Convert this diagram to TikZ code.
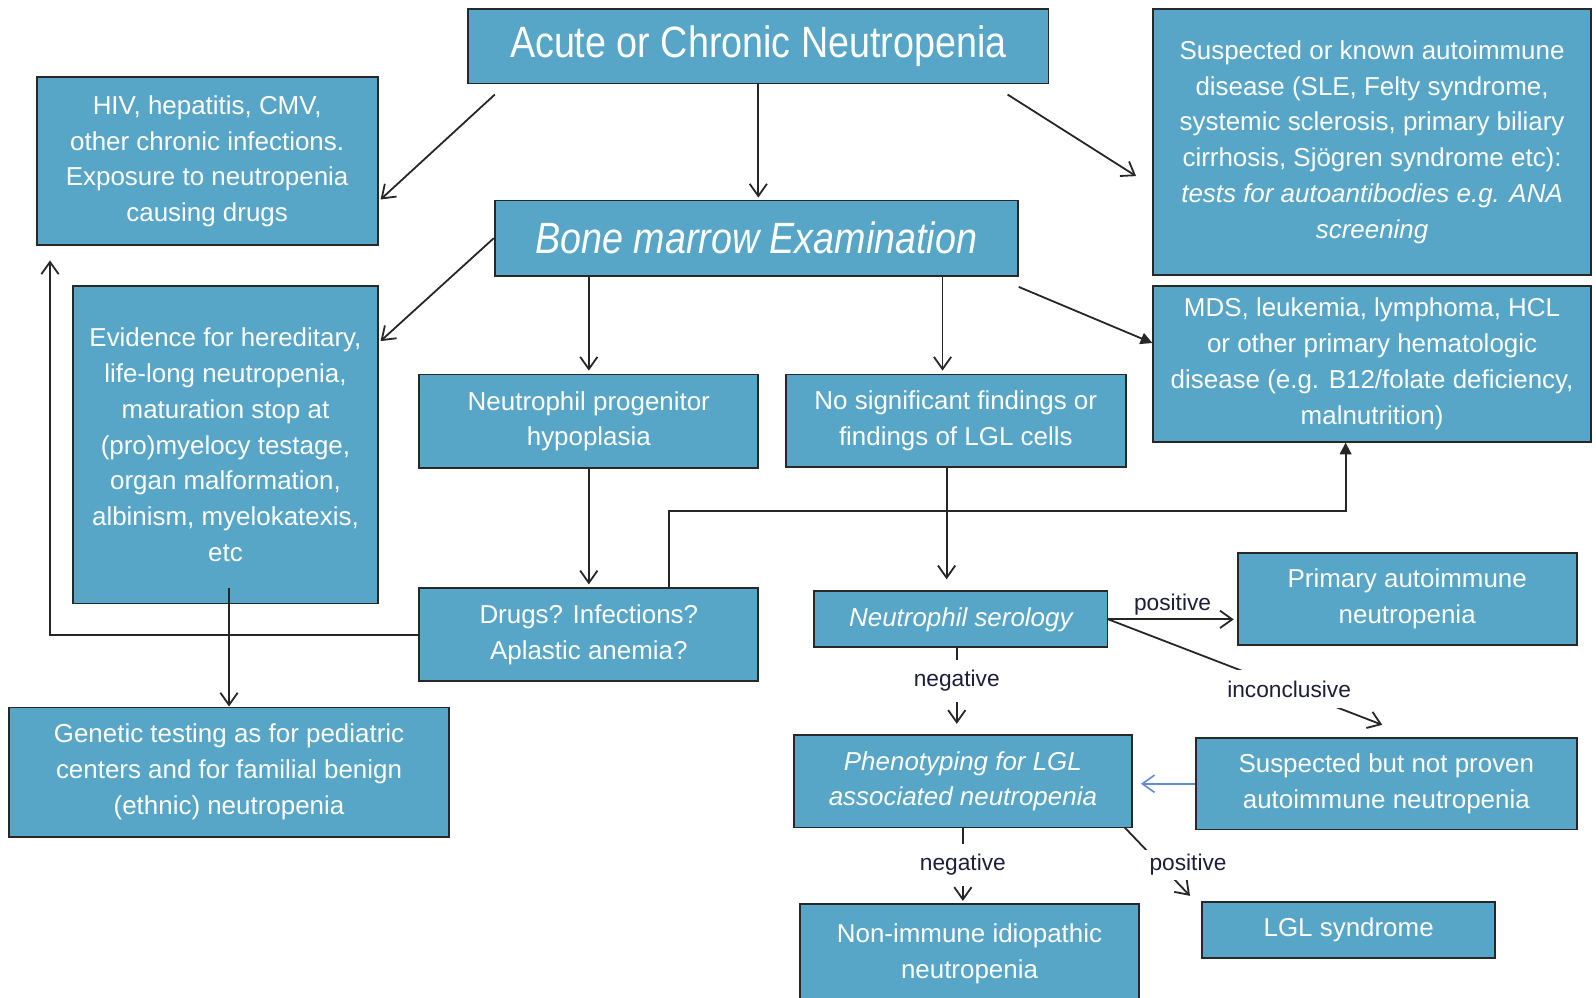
\documentclass[tikz,border=0pt]{standalone}
\usepackage{fontspec}
\setmainfont{Liberation Sans}
\newfontfamily\headfont[FakeStretch=0.86]{Liberation Sans}
\usetikzlibrary{positioning, arrows.meta, calc}
\definecolor{boxblue}{RGB}{87,166,200}
\definecolor{boxline}{RGB}{40,40,40}
\definecolor{labnavy}{RGB}{30,30,60}
\definecolor{linkblue}{RGB}{100,140,210}
\tikzset{
    nbox/.style={rectangle, draw=boxline, fill=boxblue, line width=1pt, text=white, align=center, font=\fontsize{14.5}{20}\selectfont, inner sep=2pt},
    nboxit/.style={nbox, font=\itshape\fontsize{14.5}{20}\selectfont},
    headbox/.style={nbox, font=\headfont\fontsize{24.5}{28}\selectfont},
    arr/.style={-{Straight Barb[length=2.4mm, width=3.4mm]}, line width=1pt, black!85},
    arrf/.style={-{Triangle[length=2.3mm, width=2.3mm]}, line width=1pt, black!85},
    arrblue/.style={-{Straight Barb[length=2.4mm, width=3.4mm]}, line width=0.9pt, linkblue},
    lab/.style={fill=white, text=labnavy, font=\fontsize{12.7}{14}\selectfont, inner sep=2mm},
    labtop/.style={text=labnavy, font=\fontsize{12.7}{14}\selectfont, inner sep=0.6mm}
}

\begin{document}
\begin{tikzpicture}[x=0.2mm, y=-0.2mm]
    \path[use as bounding box, fill=white] (0,0) rectangle (1568,980);

    % boxes
    \node[headbox, minimum width=114mm, minimum height=14.6mm] (title) at (745,45.5) {Acute or Chronic Neutropenia};
    \node[nbox, minimum width=67mm, minimum height=33mm] (hiv) at (203.5,158.5) {HIV, hepatitis, CMV,\\other chronic infections.\\Exposure to neutropenia\\causing drugs};
    \node[headbox, font=\headfont\itshape\fontsize{24.5}{28}\selectfont, minimum width=102.8mm, minimum height=14.8mm] (bone) at (743,234) {Bone marrow Examination};
    \node[nbox, minimum width=86mm, minimum height=52.2mm] (auto) at (1348,139.5) {Suspected or known autoimmune\\disease (SLE, Felty syndrome,\\systemic sclerosis, primary biliary\\cirrhosis, Sjögren syndrome etc):\\\textit{tests for autoantibodies e.g. ANA}\\\textit{screening}};
    \node[nbox, minimum width=86mm, minimum height=30.6mm] (mds) at (1348,357.5) {MDS, leukemia, lymphoma, HCL\\or other primary hematologic\\disease (e.g. B12/folate deficiency,\\malnutrition)};
    \node[nbox, minimum width=59.8mm, minimum height=62.4mm] (evid) at (221.5,437) {Evidence for hereditary,\\life-long neutropenia,\\maturation stop at\\(pro)myelocy testage,\\organ malformation,\\albinism, myelokatexis,\\etc};
    \node[nbox, minimum width=66.6mm, minimum height=18.4mm] (prog) at (578.5,414) {Neutrophil progenitor\\hypoplasia};
    \node[nbox, minimum width=66.8mm, minimum height=18.2mm] (nosig) at (939,413.5) {No significant findings or\\findings of LGL cells};
    \node[nbox, minimum width=66.6mm, minimum height=18.2mm] (drugs) at (578.5,623.5) {Drugs? Infections?\\Aplastic anemia?};
    \node[nboxit, minimum width=57.6mm, minimum height=11mm] (sero) at (944,608.5) {Neutrophil serology};
    \node[nbox, minimum width=66.6mm, minimum height=18.2mm] (prim) at (1382.5,588.5) {Primary autoimmune\\neutropenia};
    \node[nbox, minimum width=86.4mm, minimum height=25.4mm] (gen) at (225,758.5) {Genetic testing as for pediatric\\centers and for familial benign\\(ethnic) neutropenia};
    \node[nboxit, minimum width=66.4mm, minimum height=18.2mm] (pheno) at (946,767.5) {Phenotyping for LGL\\associated neutropenia};
    \node[nbox, minimum width=74.8mm, minimum height=18mm] (susp) at (1362,770) {Suspected but not proven\\autoimmune neutropenia};
    \node[nbox, minimum width=66.6mm, minimum height=19.6mm] (nonimm) at (952.5,937) {Non-immune idiopathic\\neutropenia};
    \node[nbox, minimum width=57.6mm, minimum height=11mm] (lgl) at (1325,913.5) {LGL syndrome};

    % connectors
    \draw[arr] ($(title.south west)+(27,10)$) -- ($(hiv.east)+(2,37.5)$);
    \draw[arr, shorten >=0.4mm] (title.south) -- (title.south |- bone.north);
    \draw[arr] ($(title.south east)+(-41,10)$) -- ($(auto.west)+(-16,33.5)$);
    \draw[arr] (bone.west) -- ($(evid.north east)+(2,55)$);
    \draw[arr, shorten >=0.6mm] (bone.south -| prog.north) -- (prog.north);
    \coordinate (nsin) at ($(nosig.north)+(-13,-3)$);
    \draw[arr] (bone.south -| nsin) -- (nsin);
    \draw[arrf] ($(bone.south east)+(0,10)$) -- ($(mds.west)+(0,-20.5)$);
    \draw[arr, shorten >=0.6mm] (prog.south) -- (drugs.north);
    \coordinate (nss) at ($(sero.north)+(-14,-11)$);
    \draw[arr] (nosig.south -| nss) -- (nss);
    \coordinate (dm) at ($(mds.south)+(-26,0)$);
    \draw[arrf] ($(drugs.north)+(78.5,0)$) -- ++(0,-75) -| (dm);
    \draw[arr] (drugs.west) -| ($(hiv.south west)+(14,14)$);
    \draw[arr] ($(evid.south -| gen.north)+(0,-16)$) -- (gen.north);
    \draw[arr, shorten >=0.6mm] (sero.east) -- node[labtop, above]{positive} (sero.east -| prim.west);
    \draw[arr] (sero.east) -- node[lab, pos=0.66]{inconclusive} ($(susp.north)+(-4,-12)$);
    \coordinate (spn) at ($(pheno.north)+(-6,-10)$);
    \draw[arr] (sero.south -| spn) -- node[lab, pos=0.43]{negative} (spn);
    \coordinate (pe) at ($(pheno.east)+(8,0)$);
    \draw[arrblue] (susp.west) -- (susp.west -| pe);
    \draw[arr, shorten >=0.4mm] (pheno.south) -- node[lab, pos=0.49]{negative} (pheno.south |- nonimm.north);
    \draw[arr] ($(pheno.south east)+(-8,-1)$) -- node[lab, pos=0.55, xshift=5.4mm, inner ysep=0.8mm]{positive} ($(lgl.north west)+(-11,-5)$);
\end{tikzpicture}
\end{document}
